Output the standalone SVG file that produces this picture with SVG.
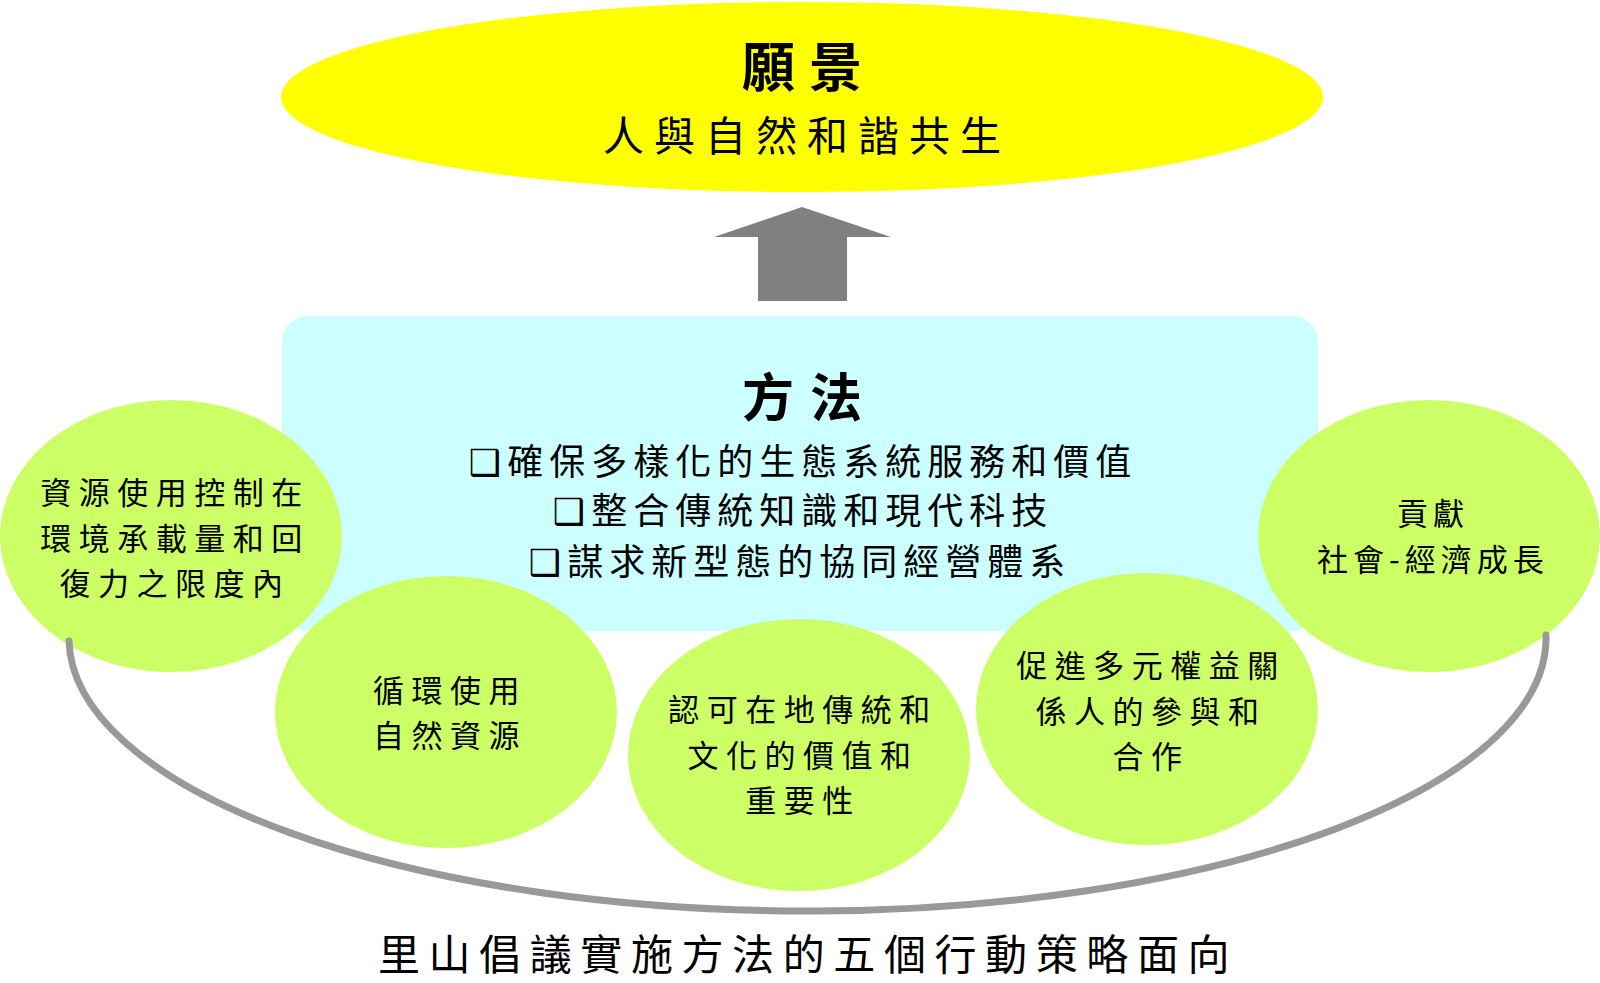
<svg xmlns="http://www.w3.org/2000/svg" width="1600" height="983" viewBox="0 0 1600 983">
<style>
.t{font-family:"Noto Sans CJK TC","Noto Sans CJK SC",sans-serif;fill:#000;text-anchor:middle}
.b{font-weight:bold}
.g{fill:#CCFF66}
.c{font-size:31px;letter-spacing:7.5px}
.m{font-size:36px;letter-spacing:6px}
.box{font-family:"DejaVu Sans",sans-serif;font-weight:bold}
</style>
<rect width="1600" height="983" fill="#fff"/>
<g id="vision">
<ellipse cx="802" cy="97" rx="521" ry="95" fill="#FFFF00"/>
<text class="t b" x="809" y="87" font-size="53" letter-spacing="14">願景</text>
<text class="t" x="807" y="151" font-size="41" letter-spacing="10">人與自然和諧共生</text>
</g>
<g id="arrow">
<polygon points="802,207 891,237 847,237 847,301 758,301 758,237 714,237" fill="#808080"/>
</g>
<g id="method">
<rect x="282" y="316" width="1036" height="315" rx="26" fill="#CCFFFF"/>
<text class="t b" x="810" y="417" font-size="52" letter-spacing="16">方法</text>
<text class="t m" x="803" y="475"><tspan class="box">❑</tspan>確保多樣化的生態系統服務和價值</text>
<text class="t m" x="803" y="524"><tspan class="box">❑</tspan>整合傳統知識和現代科技</text>
<text class="t m" x="800" y="575"><tspan class="box">❑</tspan>謀求新型態的協同經營體系</text>
</g>
<g id="n1">
<ellipse class="g" cx="171" cy="536" rx="171" ry="136"/>
<text class="t c" x="175" y="504">資源使用控制在</text>
<text class="t c" x="175" y="550">環境承載量和回</text>
<text class="t c" x="175" y="595">復力之限度內</text>
</g>
<g id="n5">
<ellipse class="g" cx="1429" cy="536" rx="171" ry="136"/>
<text class="t c" x="1433" y="525" style="letter-spacing:5px">貢獻</text>
<text class="t c" x="1433" y="571" style="letter-spacing:5px">社會-經濟成長</text>
</g>
<g id="n2">
<ellipse class="g" cx="446" cy="712" rx="171" ry="136"/>
<text class="t c" x="450" y="702">循環使用</text>
<text class="t c" x="450" y="747">自然資源</text>
</g>
<g id="n3">
<ellipse class="g" cx="799" cy="755" rx="171" ry="136"/>
<text class="t c" x="803" y="721">認可在地傳統和</text>
<text class="t c" x="803" y="767">文化的價值和</text>
<text class="t c" x="803" y="812">重要性</text>
</g>
<g id="n4">
<ellipse class="g" cx="1147" cy="709" rx="171" ry="136"/>
<text class="t c" x="1151" y="677">促進多元權益關</text>
<text class="t c" x="1151" y="723">係人的參與和</text>
<text class="t c" x="1151" y="768">合作</text>
</g>
<g id="connectors">
<path d="M69,641 A738.5,273 0 0 0 1546,635" fill="none" stroke="#999999" stroke-width="7" stroke-linecap="round"/>
</g>
<g id="caption">
<text class="t" x="808" y="970" font-size="42" letter-spacing="8.6">里山倡議實施方法的五個行動策略面向</text>
</g>
</svg>
